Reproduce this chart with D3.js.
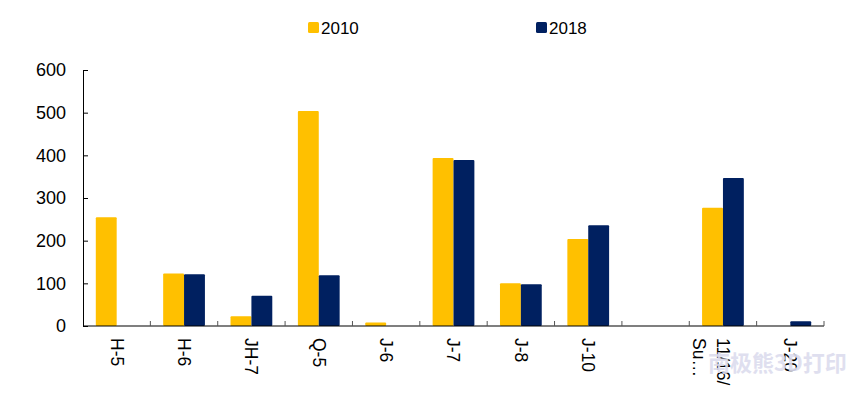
<!DOCTYPE html>
<html>
<head>
<meta charset="utf-8">
<script src="https://cdn.jsdelivr.net/npm/d3@7"></script>
<style>
  body { margin: 0; background: #fff; }
  svg text { font-family: "Liberation Sans", Arial, sans-serif; fill: #000; }
</style>
</head>
<body>
<div class="chart"></div>
<script>
'use strict';

// chart data
var categories = ['H-5', 'H-6', 'JH-7', 'Q-5', 'J-6', 'J-7', 'J-8', 'J-10', '', '11/16/Su…', 'J-20'];
var series = ['2010', '2018'];
var values2010 = [255, 123, 23, 504, 8, 394, 100, 204, null, 277, 0];
var values2018 = [0, 121, 71, 119, 0, 389, 98, 236, null, 347, 11];
var yTicks = [0, 100, 200, 300, 400, 500, 600];
var colors = ['#FFC000', '#002060'];

var width = 860,
    height = 396,
    margin = { top: 70, right: 36, bottom: 70, left: 83 },
    innerW = 824 - margin.left,
    innerH = 326 - margin.top;

var svg = d3.select('.chart').append('svg')
  .attr('width', width)
  .attr('height', height);

var g = svg.append('g').attr('transform', 'translate(' + margin.left + ',' + margin.top + ')');

var x0 = d3.scaleBand().domain(categories.map(function (d, i) { return i; })).range([0, innerW]),
    bw = x0.bandwidth(),
    x1 = d3.scaleBand().domain(series).range([bw * 0.19, bw * 0.81]),
    y = d3.scaleLinear().domain([0, 600]).range([innerH, 0]),
    color = d3.scaleOrdinal().domain(series).range(colors);

var rows = categories.map(function (c, i) {
  return { cat: c, i: i, vals: [
    { s: '2010', v: values2010[i] },
    { s: '2018', v: values2018[i] }
  ] };
});

// bars
g.selectAll('g.group').data(rows).enter().append('g')
  .attr('class', 'group')
  .attr('transform', function (d) { return 'translate(' + x0(d.i) + ',0)'; })
  .selectAll('rect').data(function (d) { return d.vals.filter(function (e) { return e.v; }); })
  .enter().append('rect')
  .attr('x', function (d) { return x1(d.s); })
  .attr('width', x1.bandwidth())
  .attr('y', function (d) { return y(d.v); })
  .attr('height', function (d) { return innerH - y(d.v); })
  .attr('rx', 1)
  .style('fill', function (d) { return color(d.s); });

// y axis
var yAxis = g.append('g').call(d3.axisLeft(y).tickValues(yTicks).tickSizeInner(-5).tickSizeOuter(0).tickPadding(17));
yAxis.selectAll('text').style('font-size', '18px');
yAxis.selectAll('line, path').attr('stroke', '#000');

// x axis: line plus boundary ticks pointing up
var xAxis = g.append('g').attr('transform', 'translate(0,' + innerH + ')');
xAxis.append('line').attr('x1', 0).attr('x2', innerW).attr('stroke', '#000').attr('stroke-width', 1.2);
xAxis.selectAll('line.tick').data(d3.range(1, categories.length + 1)).enter().append('line')
  .attr('class', 'tick')
  .attr('x1', function (d) { return d === categories.length ? innerW : x0(d); })
  .attr('x2', function (d) { return d === categories.length ? innerW : x0(d); })
  .attr('y1', 0).attr('y2', -5)
  .attr('stroke', '#555');

// rotated category labels
var labels = xAxis.selectAll('text.cat').data(rows).enter().append('text')
  .attr('class', 'cat')
  .attr('transform', function (d) { return 'translate(' + (x0(d.i) + bw / 2) + ',12) rotate(90)'; })
  .style('font-size', '17.5px');
labels.each(function (d) {
  var t = d3.select(this),
      parts = d.cat === '11/16/Su…' ? ['11/16/', 'Su…'] : [d.cat];
  parts.forEach(function (p, k) {
    t.append('tspan').attr('x', 0).attr('dy', k === 0 ? '0.35em' : '1.35em').text(p);
  });
});

// legend
var legendX = [308, 536];
var legend = svg.selectAll('g.legend').data(series).enter().append('g')
  .attr('class', 'legend')
  .attr('transform', function (d, i) { return 'translate(' + legendX[i] + ',22)'; });
legend.append('rect').attr('width', 11).attr('height', 11).attr('rx', 1.5)
  .style('fill', function (d) { return color(d); });
legend.append('text').attr('x', 13).attr('y', 12).style('font-size', '17px').text(function (d) { return d; });

// watermark
svg.append('text')
  .attr('x', 708).attr('y', 371)
  .style('font-family', '"Noto Sans CJK SC", sans-serif')
  .style('font-weight', 'bold')
  .style('font-size', '22px')
  .style('fill', '#dcdcee')
  .style('opacity', 0.9)
  .text('南极熊3D打印');
</script>
</body>
</html>
